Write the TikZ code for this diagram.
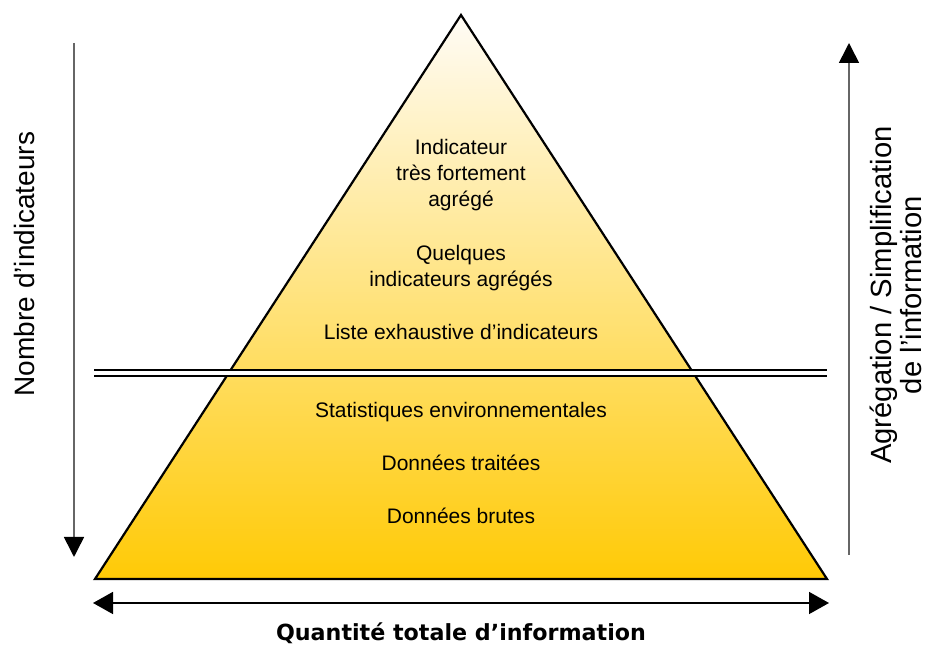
\documentclass[tikz,border=0pt]{standalone}
\usepackage{fontspec}
\setmainfont{Liberation Sans}
\newfontfamily\quantfont{DejaVu Sans}
\usetikzlibrary{arrows.meta}

\definecolor{haut}{RGB}{255,252,246}
\definecolor{milieu}{RGB}{253,227,158}
\definecolor{bas}{RGB}{255,202,6}

\begin{document}
\begin{tikzpicture}[x=0.5pt,y=-0.5pt,
	niveau/.style={font=\fontsize{10.5}{13}\selectfont, align=center, inner sep=0pt},
	axe/.style={gray!80!black, line width=0.8pt, -{Triangle[black,length=10pt,width=10pt]}},
	axetexte/.style={font=\fontsize{14}{15.5}\selectfont, align=center, rotate=90, inner sep=0pt}]
	\useasboundingbox (0,0) rectangle (928,646);
	% pyramide
	\coordinate (S) at (461,15);
	\coordinate (G) at (95,579);
	\coordinate (D) at (827,579);
	\path[draw, line width=1.1pt, top color=haut, middle color=milieu, bottom color=bas]
		(S) -- (G) -- (D) -- cycle;
	\coordinate (dg) at (94,373);
	\coordinate (dd) at (827,373);
	\draw[double, double distance=2.4pt, line width=0.6pt] (dg) -- (dd);

	\node[niveau] (ind) at (461,175) {Indicateur\\très fortement\\agrégé};
	\node[niveau] (quel) at (461,268) {Quelques\\indicateurs agrégés};
	\node[niveau] (liste) at (461,332) {Liste exhaustive d'indicateurs};
	\node[niveau] (stat) at (461,412) {Statistiques environnementales};
	\node[niveau] (trait) at (461,463) {Données traitées};
	\node[niveau] (brut) at (461,516) {Données brutes};

	% axes
	\coordinate (nh) at (74,43);
	\coordinate (nb) at (74,557);
	\draw[axe] (nh) -- (nb);
	\node[axetexte] (nombre) at (24,264) {Nombre d'indicateurs};

	\coordinate (ab) at (849,555);
	\coordinate (ah) at (849,43);
	\draw[axe] (ab) -- (ah);
	\node[axetexte, font=\fontsize{14.6}{15}\selectfont] (agreg) at (896,295) {Agrégation / Simplification\\de l'information};

	\coordinate (qg) at (93,603);
	\coordinate (qd) at (829,603);
	\draw[line width=0.8pt, {Triangle[length=10pt,width=11pt]}-{Triangle[length=10pt,width=11pt]}] (qg) -- (qd);
	\node[font=\quantfont\bfseries\fontsize{11.1}{13}\selectfont, inner sep=0pt] (quant) at (461,633) {Quantité totale d’information};
\end{tikzpicture}
\end{document}
